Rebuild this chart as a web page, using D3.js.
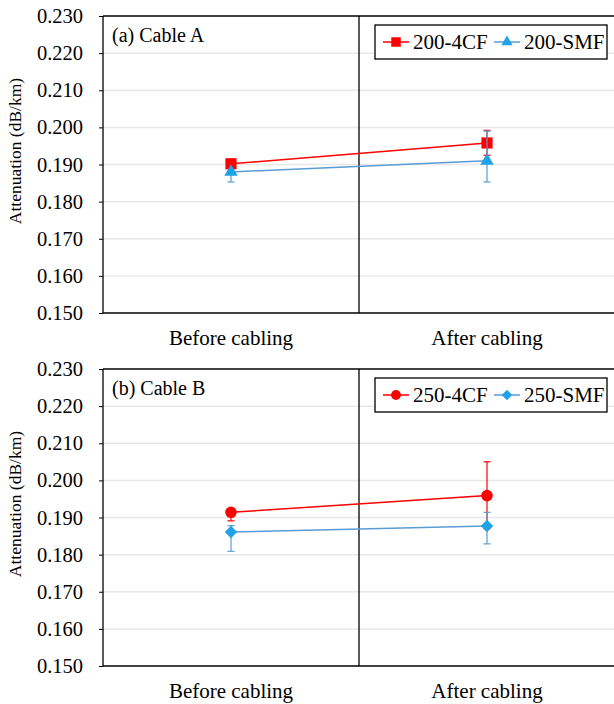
<!DOCTYPE html>
<html>
<head>
<meta charset="utf-8">
<script src="https://cdn.jsdelivr.net/npm/d3@7"></script>
<style>
  body { margin: 0; background: #fff; }
  svg { display: block; font-family: "Liberation Serif", "Times New Roman", serif; }
</style>
</head>
<body>
<svg id="chart" width="614" height="704"></svg>
<script>
// categories and tick values
const categories = ["Before cabling", "After cabling"];
const yTicks = [0.150, 0.160, 0.170, 0.180, 0.190, 0.200, 0.210, 0.220, 0.230];

// (a) Cable A
const cableA4cf     = [0.1902, 0.1958];
const cableA4cfLow  = [0.1902, 0.1925];
const cableA4cfHigh = [0.1902, 0.1992];
const cableASmf     = [0.1880, 0.1910];
const cableASmfLow  = [0.1853, 0.1853];
const cableASmfHigh = [0.1880, 0.1990];

// (b) Cable B
const cableB4cf     = [0.1914, 0.1959];
const cableB4cfLow  = [0.1891, 0.1870];
const cableB4cfHigh = [0.1914, 0.2050];
const cableBSmf     = [0.1861, 0.1877];
const cableBSmfLow  = [0.1809, 0.1829];
const cableBSmfHigh = [0.1878, 0.1914];

const red = "#ff0000";
const blueLine = "#5b9bd5";
const blueMark = "#1fa2e6";

const panels = [
  {label: "(a) Cable A", top: 16, series: [
    {name: "200-4CF", v: cableA4cf, lo: cableA4cfLow, hi: cableA4cfHigh, line: red, fill: red, shape: "square"},
    {name: "200-SMF", v: cableASmf, lo: cableASmfLow, hi: cableASmfHigh, line: blueLine, fill: blueMark, shape: "triangle"}
  ]},
  {label: "(b) Cable B", top: 369, series: [
    {name: "250-4CF", v: cableB4cf, lo: cableB4cfLow, hi: cableB4cfHigh, line: red, fill: red, shape: "circle"},
    {name: "250-SMF", v: cableBSmf, lo: cableBSmfLow, hi: cableBSmfHigh, line: blueLine, fill: blueMark, shape: "diamond"}
  ]}
];

const svg = d3.select("#chart");
const left = 103, right = 615, plotH = 297;

function symbolPath(shape, scale) {
  const s = scale || 1;
  if (shape === "square") return d3.symbol(d3.symbolSquare, 125 * s * s)();
  if (shape === "triangle") return d3.symbol(d3.symbolTriangle, 78 * s * s)();
  if (shape === "circle") return d3.symbol(d3.symbolCircle, 105 * s * s)();
  return d3.symbol(d3.symbolSquare, 76 * s * s)();
}
function symbolRotate(shape) { return shape === "diamond" ? " rotate(45)" : ""; }

panels.forEach(function(p) {
  const g = svg.append("g");
  const bottom = p.top + plotH;

  const x = d3.scalePoint().domain(categories).range([left, right]).padding(0.5);
  const y = d3.scaleLinear().domain([0.150, 0.230]).range([bottom, p.top]);

  // grid
  g.selectAll(".grid").data(yTicks.slice(1, -1)).enter()
    .append("line")
    .attr("x1", left).attr("x2", right)
    .attr("y1", d => y(d)).attr("y2", d => y(d))
    .style("stroke", "#e8e8e8").style("stroke-width", 1.5);

  // y axis
  const yAxis = d3.axisLeft(y).tickValues(yTicks).tickFormat(d3.format(".3f")).tickSizeInner(4).tickSizeOuter(0).tickPadding(16);
  const ya = g.append("g").attr("transform", `translate(${left},0)`).call(yAxis);
  ya.select(".domain").remove();
  ya.selectAll("line").style("stroke", "#000");
  ya.selectAll("text").style("font-size", "20.5px").style("fill", "#000")
    .style("font-family", "'Liberation Serif', 'Times New Roman', serif");

  // frame: left, bottom, top, divider
  g.append("line").attr("x1", left).attr("x2", left).attr("y1", p.top).attr("y2", bottom)
    .style("stroke", "#000").style("stroke-width", 1.3);
  g.append("line").attr("x1", left).attr("x2", right).attr("y1", bottom).attr("y2", bottom)
    .style("stroke", "#000").style("stroke-width", 1.3);
  g.append("line").attr("x1", left).attr("x2", right).attr("y1", p.top).attr("y2", p.top)
    .style("stroke", "#000").style("stroke-width", 1.3);
  const mid = (x(categories[0]) + x(categories[1])) / 2;
  g.append("line").attr("x1", mid).attr("x2", mid).attr("y1", p.top).attr("y2", bottom)
    .style("stroke", "#000").style("stroke-width", 1.3);

  // x labels
  g.selectAll(".xl").data(categories).enter()
    .append("text")
    .attr("x", d => x(d)).attr("y", bottom + 32)
    .attr("text-anchor", "middle")
    .style("font-size", "21px")
    .text(d => d);

  // y title
  g.append("text")
    .attr("transform", `translate(21,${p.top + 135}) rotate(-90)`)
    .attr("text-anchor", "middle")
    .style("font-size", "17.5px")
    .text("Attenuation (dB/km)");

  // panel label
  g.append("text").attr("x", 112).attr("y", p.top + 26)
    .style("font-size", "20px").text(p.label);

  // series
  p.series.forEach(function(s) {
    const pts = categories.map((c, i) => ({c: c, v: s.v[i], lo: s.lo[i], hi: s.hi[i]}));
    g.append("path").datum(pts)
      .attr("d", d3.line().x(d => x(d.c)).y(d => y(d.v)))
      .style("fill", "none").style("stroke", s.line).style("stroke-width", 1.5);

    const eb = g.selectAll(null).data(pts.filter(d => d.hi > d.lo)).enter().append("g");
    eb.append("line")
      .attr("x1", d => x(d.c)).attr("x2", d => x(d.c))
      .attr("y1", d => y(d.lo)).attr("y2", d => y(d.hi))
      .style("stroke", s.line).style("stroke-width", 1.2);
    eb.filter(d => d.hi > d.v).append("line")
      .attr("x1", d => x(d.c) - 3.5).attr("x2", d => x(d.c) + 3.5)
      .attr("y1", d => y(d.hi)).attr("y2", d => y(d.hi))
      .style("stroke", s.line).style("stroke-width", 1.2);
    eb.filter(d => d.lo < d.v).append("line")
      .attr("x1", d => x(d.c) - 3.5).attr("x2", d => x(d.c) + 3.5)
      .attr("y1", d => y(d.lo)).attr("y2", d => y(d.lo))
      .style("stroke", s.line).style("stroke-width", 1.2);

    g.selectAll(null).data(pts).enter()
      .append("path")
      .attr("d", symbolPath(s.shape))
      .attr("transform", d => `translate(${x(d.c)},${y(d.v)})` + symbolRotate(s.shape))
      .style("fill", s.fill);
  });

  // legend
  const lg = g.append("g").attr("transform", `translate(375,${p.top + 9})`);
  lg.append("rect").attr("width", 232).attr("height", 34)
    .style("fill", "#fff").style("stroke", "#000").style("stroke-width", 1.3);
  const offsets = [8, 119];
  p.series.forEach(function(s, i) {
    const ox = offsets[i];
    lg.append("line").attr("x1", ox).attr("x2", ox + 26).attr("y1", 17).attr("y2", 17)
      .style("stroke", s.line).style("stroke-width", 1.5);
    lg.append("path").attr("d", symbolPath(s.shape, 0.85))
      .attr("transform", `translate(${ox + 13},17)` + symbolRotate(s.shape))
      .style("fill", s.fill);
    lg.append("text").attr("x", ox + 30).attr("y", 24)
      .style("font-size", "21px").text(s.name);
  });
});
</script>
</body>
</html>
